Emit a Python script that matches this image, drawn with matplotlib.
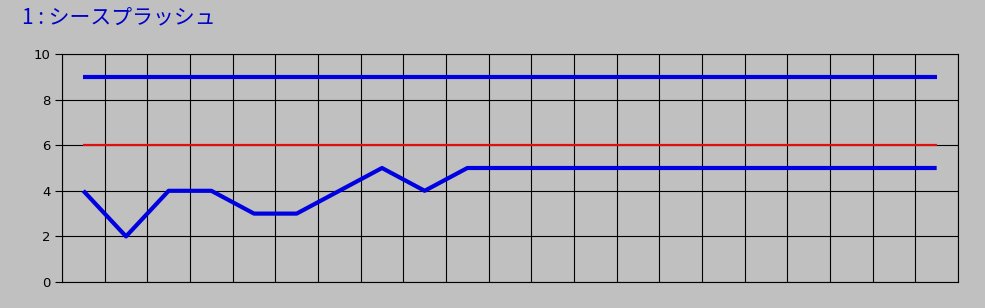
import matplotlib
matplotlib.use("Agg")
import matplotlib.pyplot as plt
import numpy as np

title = "1 : シースプラッシュ"
upper = [9] * 21
limit = [6] * 21
score = [4, 2, 4, 4, 3, 3, 4, 5, 4, 5, 5, 5, 5, 5, 5, 5, 5, 5, 5, 5, 5]
yticks = [0, 2, 4, 6, 8, 10]

bg = "#C0C0C0"
fig = plt.figure(figsize=(9.85, 3.08), dpi=100, facecolor=bg)
ax = fig.add_axes([62 / 985, 26 / 308, 896 / 985, 228 / 308], facecolor=bg)

x = np.arange(len(score))
ax.plot(x, limit, color="#E01010", lw=1.6, solid_capstyle="butt", zorder=3)
ax.plot(x, upper, color="#0000E0", lw=3.0, solid_capstyle="butt", zorder=4)
ax.plot(x, score, color="#0000E0", lw=3.0, solid_capstyle="butt", zorder=4)

ax.set_xlim(-0.5, len(score) - 0.5)
ax.set_ylim(0, 10)
ax.set_yticks(yticks)
ax.set_xticks(np.arange(-0.5, len(score), 1.0))
ax.set_xticklabels([])
ax.tick_params(axis="x", length=0)
ax.tick_params(axis="y", length=5, width=0.8, color="black", labelsize=9.5, pad=3)
ax.grid(True, color="black", lw=0.8)
ax.set_axisbelow(True)
for s in ax.spines.values():
    s.set_color("black")
    s.set_linewidth(0.8)

fig.text(22 / 985, 1 - 17 / 308, title, color="#0000C8", fontsize=15,
         family=["Noto Sans CJK JP", "DejaVu Sans"], va="center", ha="left")

fig.savefig("out.png", dpi=100, facecolor=bg)
